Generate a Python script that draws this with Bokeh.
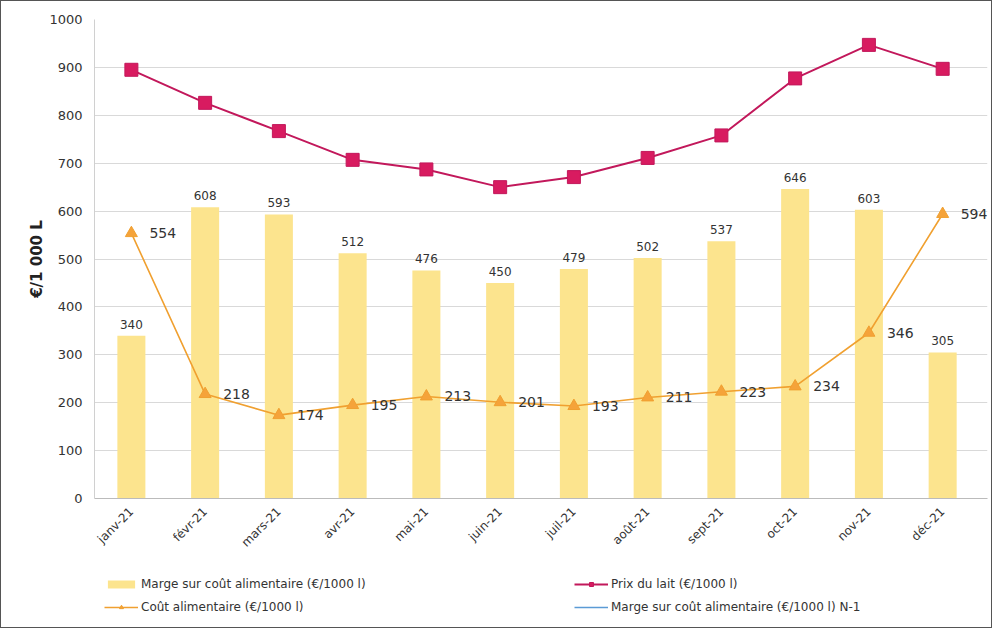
from bokeh.plotting import figure
from bokeh.layouts import column
from bokeh.models import (ColumnDataSource, Range1d, Legend, LegendItem,
                          SingleIntervalTicker, FixedTicker)
from bokeh.core.properties import value
from bokeh.embed import file_html
from bokeh.resources import INLINE
import math

months = ["janv-21", "févr-21", "mars-21", "avr-21", "mai-21", "juin-21",
          "juil-21", "août-21", "sept-21", "oct-21", "nov-21", "déc-21"]
marge = [340, 608, 593, 512, 476, 450, 479, 502, 537, 646, 603, 305]
prix = [895, 826, 767, 707, 687, 650, 671, 711, 758, 877, 947, 897]
cout = [554, 218, 174, 195, 213, 201, 193, 211, 223, 234, 346, 594]

pos = [i + 0.5 for i in range(len(months))]  # category centres
src = ColumnDataSource(dict(x=pos, m=months, marge=marge, prix=prix, cout=cout,
                            marge_s=[str(v) for v in marge],
                            cout_s=[str(v) for v in cout]))

FONT = "DejaVu Sans"
C_BAR = "#FCE48E"
C_PRIX = "#C2185B"
C_PRIX_F = "#D81B60"
C_COUT = "#F0A030"
C_COUT_F = "#F5A33A"
C_N1 = "#5B9BD5"

p = figure(width=990, height=556, x_range=Range1d(0, len(months) * 1.009),
           y_range=Range1d(0, 1000), output_backend="svg", toolbar_location=None,
           min_border_left=93, min_border_right=4, min_border_top=18, min_border_bottom=58)
p.outline_line_color = None

p.vbar(x="x", top="marge", width=0.38, source=src, fill_color=C_BAR, line_color=None)
p.text(x="x", y="marge", text="marge_s", source=src, text_align="center",
       text_baseline="bottom", y_offset=-7, text_font=value(FONT), text_font_size="12px",
       text_color="#333333")

p.line(x="x", y="prix", source=src, line_color=C_PRIX, line_width=2)
p.scatter(x="x", y="prix", source=src, marker="square", size=13,
          fill_color=C_PRIX_F, line_color=C_PRIX)

p.line(x="x", y="cout", source=src, line_color=C_COUT, line_width=1.6)
p.scatter(x="x", y="cout", source=src, marker="triangle", size=12,
          fill_color=C_COUT_F, line_color=C_COUT)
p.text(x="x", y="cout", text="cout_s", source=src, text_align="left",
       text_baseline="middle", x_offset=18, text_font=value(FONT), text_font_size="14px",
       text_color="#333333")

p.xgrid.grid_line_color = None
p.ygrid.grid_line_color = "#D9D9D9"
p.yaxis.ticker = SingleIntervalTicker(interval=100)
p.xaxis.ticker = FixedTicker(ticks=pos)
p.xaxis.major_label_overrides = {x: m for x, m in zip(pos, months)}
p.yaxis.axis_line_color = "#D0D0D0"
p.xaxis.axis_line_color = "#BBBBBB"
for ax in (p.xaxis, p.yaxis):
    ax.major_tick_line_color = None
    ax.minor_tick_line_color = None
    ax.major_label_text_font = FONT
    ax.major_label_text_color = "#333333"
p.yaxis.major_label_text_font_size = "13px"
p.yaxis.major_label_standoff = 6
p.xaxis.major_label_text_font_size = "12px"
p.xaxis.major_label_orientation = math.pi / 4
p.yaxis.axis_label = "€/1 000 L"
p.yaxis.axis_label_text_font = FONT
p.yaxis.axis_label_text_font_style = "bold"
p.yaxis.axis_label_text_font_size = "15px"
p.yaxis.axis_label_text_color = "#222222"
p.yaxis.axis_label_standoff = 0

# legend strip below the chart
lg = figure(width=990, height=70, x_range=Range1d(0, 1), y_range=Range1d(0, 1),
            output_backend="svg", toolbar_location=None, x_axis_type=None, y_axis_type=None,
            min_border_left=93, min_border_top=0, min_border_right=4, min_border_bottom=0)
lg.outline_line_color = None
lg.xgrid.grid_line_color = None
lg.ygrid.grid_line_color = None
r_bar = lg.vbar(x=[-5], top=[-5], width=0.5, fill_color=C_BAR, line_color=None)
r_pl = lg.line(x=[-5, -4], y=[-5, -5], line_color=C_PRIX, line_width=2)
r_ps = lg.scatter(x=[-5], y=[-5], marker="square", size=7, fill_color=C_PRIX_F, line_color=C_PRIX)
r_cl = lg.line(x=[-5, -4], y=[-5, -5], line_color=C_COUT, line_width=1.6)
r_cs = lg.scatter(x=[-5], y=[-5], marker="triangle", size=6, fill_color=C_COUT_F, line_color=C_COUT)
r_n1 = lg.line(x=[-5, -4], y=[-5, -5], line_color=C_N1, line_width=1.5)

legend = Legend(items=[
    LegendItem(label="Marge sur coût alimentaire (€/1000 l)", renderers=[r_bar]),
    LegendItem(label="Prix du lait (€/1000 l)", renderers=[r_pl, r_ps]),
    LegendItem(label="Coût alimentaire (€/1000 l)", renderers=[r_cl, r_cs]),
    LegendItem(label="Marge sur coût alimentaire (€/1000 l) N-1", renderers=[r_n1]),
], ncols=2, orientation="horizontal", location=(10, 10), border_line_color=None,
    background_fill_alpha=0,
    label_text_font=FONT, label_text_font_size="12px", label_text_color="#333333",
    label_width=430, glyph_width=34, glyph_height=10, spacing=3, padding=0,
    margin=0, label_standoff=3, label_height=20)
lg.add_layout(legend, "center")

layout = column(p, lg, spacing=0)
layout.styles = {"border": "1px solid #555"}

open("out.html", "w").write(file_html(layout, INLINE))
